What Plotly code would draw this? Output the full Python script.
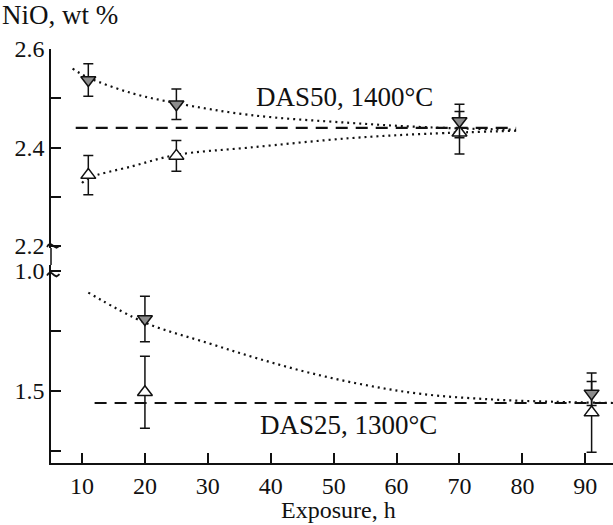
import plotly.graph_objects as go

# ---- data ----
# Top panel: DAS50, 1400°C
das50_x = [11, 25, 70]
das50_filled_y = [2.537, 2.488, 2.454]
das50_filled_err = [0.033, 0.031, 0.034]
das50_open_y = [2.344, 2.383, 2.430]
das50_open_err = [0.040, 0.031, 0.043]
das50_fit_up_x = [8.5, 11, 18, 25, 36.7, 52.6, 65, 79]
das50_fit_up_y = [2.560, 2.542, 2.510, 2.490, 2.466, 2.450, 2.441, 2.436]
das50_fit_lo_x = [10, 11, 18, 25, 36.7, 52.6, 65, 79]
das50_fit_lo_y = [2.328, 2.338, 2.362, 2.385, 2.400, 2.419, 2.428, 2.434]
das50_eq_x = [9, 79]
das50_eq_y = [2.44, 2.44]

# Bottom panel: DAS25, 1300°C
das25_x = [20, 91]
das25_filled_y = [1.560, 1.498]
das25_filled_err = [0.019, 0.010]
das25_open_y = [1.499, 1.482]
das25_open_err = [0.030, 0.033]
das25_fit_x = [11, 20, 30, 38, 46.3, 55, 64, 75, 85, 94.4]
das25_fit_y = [1.582, 1.557, 1.540, 1.527, 1.515, 1.505, 1.4975, 1.493, 1.491, 1.490]
das25_eq_x = [12, 94.4]
das25_eq_y = [1.49, 1.49]

x_ticks = [10, 20, 30, 40, 50, 60, 70, 80, 90]
top_ticks = [2.2, 2.3, 2.4, 2.5, 2.6]
top_ticktext = ["2.2", "", "2.4", "", "2.6"]
bot_ticks = [1.45, 1.5, 1.55, 1.6]
bot_ticktext = ["", "1.5", "", "1.0"]

FONT = "Liberation Serif"
BLACK = "#111111"

fig = go.Figure()

def add_panel(yaxis, fit_sets, eq_x, eq_y, xs, fy, fe, oy, oe):
    for fx, fyv in fit_sets:
        fig.add_trace(go.Scatter(x=fx, y=fyv, mode="lines", yaxis=yaxis,
                                 line=dict(color=BLACK, width=2.2, dash="2px,4px", shape="spline"),
                                 showlegend=False, hoverinfo="skip"))
    fig.add_trace(go.Scatter(x=eq_x, y=eq_y, mode="lines", yaxis=yaxis,
                             line=dict(color=BLACK, width=2.2, dash="12px,8px"),
                             showlegend=False, hoverinfo="skip"))
    fig.add_trace(go.Scatter(x=xs, y=oy, mode="markers", yaxis=yaxis,
                             error_y=dict(type="data", array=oe, color=BLACK, thickness=1.5, width=5),
                             marker=dict(symbol="triangle-up", size=13, color="white",
                                         line=dict(color=BLACK, width=1.5)),
                             showlegend=False))
    fig.add_trace(go.Scatter(x=xs, y=fy, mode="markers", yaxis=yaxis,
                             error_y=dict(type="data", array=fe, color=BLACK, thickness=1.5, width=5),
                             marker=dict(symbol="triangle-down", size=13, color="#8c8c8c",
                                         line=dict(color=BLACK, width=1.5)),
                             showlegend=False))

add_panel("y2", [(das50_fit_up_x, das50_fit_up_y), (das50_fit_lo_x, das50_fit_lo_y)],
          das50_eq_x, das50_eq_y, das50_x, das50_filled_y, das50_filled_err,
          das50_open_y, das50_open_err)
add_panel("y", [(das25_fit_x, das25_fit_y)],
          das25_eq_x, das25_eq_y, das25_x, das25_filled_y, das25_filled_err,
          das25_open_y, das25_open_err)

W = 613 - 51
H = 525 - 49 - 62
top_dom0 = 1 - 199 / H
bot_dom1 = 198 / H
top_range = [2.196, 2.6]
bot_range = [1.44, 1.605]

axis_common = dict(showline=True, linecolor=BLACK, linewidth=1.5, ticks="inside",
                   ticklen=10, tickwidth=1.5, tickcolor=BLACK, showgrid=False,
                   zeroline=False, tickfont=dict(family=FONT, size=24, color=BLACK))

fig.update_layout(
    width=613, height=525,
    margin=dict(l=51, r=0, t=49, b=62),
    paper_bgcolor="white", plot_bgcolor="white",
    font=dict(family=FONT, size=26, color=BLACK),
    xaxis=dict(range=[5.07, 94.4], tickvals=x_ticks, anchor="y", **axis_common),
    yaxis=dict(domain=[0, bot_dom1], range=bot_range, tickvals=bot_ticks,
               ticktext=bot_ticktext, anchor="x", **axis_common),
    yaxis2=dict(domain=[top_dom0, 1], range=top_range, tickvals=top_ticks,
                ticktext=top_ticktext, anchor="x", **axis_common),
)

# continuous axis through the break
fig.add_shape(type="line", xref="paper", yref="paper", x0=0, x1=0,
              y0=bot_dom1, y1=top_dom0, line=dict(color=BLACK, width=1.5))

# break marks (small tildes on the axis), drawn in paper space
def tilde_path(yp):
    pts = [(-4, -1), (-2.5, 1.2), (-0.5, 2), (1.5, 0.8), (3.5, -0.8), (5.5, -1.8), (7.5, -0.5), (8.5, 0.5)]
    segs = []
    for i, (dx, dy) in enumerate(pts):
        segs.append(("M" if i == 0 else "L") + f"{dx / W:.5f},{yp + dy / H:.5f}")
    return " ".join(segs)

brk_top = top_dom0 + (2.2 - top_range[0]) / (top_range[1] - top_range[0]) * (1 - top_dom0)
brk_bot = (1.597 - bot_range[0]) / (bot_range[1] - bot_range[0]) * bot_dom1
for yp in [brk_top, brk_bot]:
    fig.add_shape(type="path", path=tilde_path(yp), xref="paper", yref="paper",
                  line=dict(color=BLACK, width=1.8))

fig.add_annotation(text="DAS50, 1400°C", x=51.8, y=2.502, xref="x", yref="y2",
                   showarrow=False, font=dict(family=FONT, size=27, color=BLACK))
fig.add_annotation(text="DAS25, 1300°C", x=52.3, y=1.472, xref="x", yref="y",
                   showarrow=False, font=dict(family=FONT, size=27, color=BLACK))
fig.add_annotation(text="NiO, wt %", x=-51 / W, xref="paper", xanchor="left",
                   y=1 + (49 - 15) / H, yref="paper", yanchor="middle", showarrow=False,
                   font=dict(family=FONT, size=27, color=BLACK))
fig.add_annotation(text="Exposure, h", x=(338 - 51) / W, xref="paper", xanchor="center",
                   y=-(510 - 463) / H, yref="paper", yanchor="middle", showarrow=False,
                   font=dict(family=FONT, size=24, color=BLACK))

fig.write_html("out.html")
